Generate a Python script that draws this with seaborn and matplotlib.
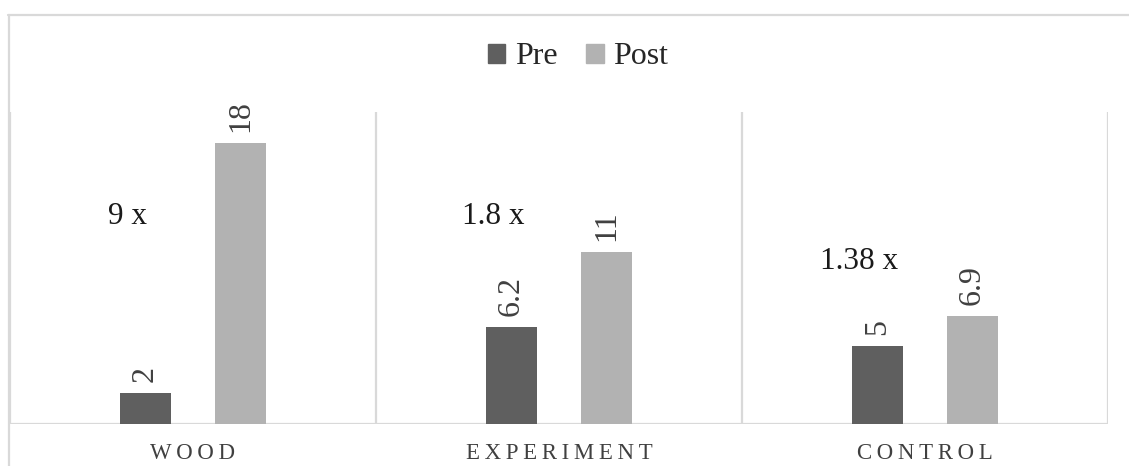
import matplotlib
matplotlib.use("Agg")
import matplotlib.pyplot as plt
from matplotlib.lines import Line2D
import pandas as pd
import seaborn as sns

# Data
groups = ["WOOD", "EXPERIMENT", "CONTROL"]
pre_values = [2, 6.2, 5]
post_values = [18, 11, 6.9]
ratio_labels = ["9 x", "1.8 x", "1.38 x"]
ratio_heights = [13.3, 13.3, 10.4]

phases = ["Pre", "Post"]
colors = ["#5f5f5f", "#b2b2b2"]
grid_color = "#d9d9d9"
text_color = "#404040"

df = pd.DataFrame({
    "group": groups * 2,
    "phase": ["Pre"] * len(groups) + ["Post"] * len(groups),
    "value": pre_values + post_values,
})

sns.set_theme(style="white")
plt.rcParams["font.family"] = ["Liberation Serif", "DejaVu Serif"]

fig = plt.figure(figsize=(11.29, 4.66), dpi=100)
ax = fig.add_axes([10 / 1129, 1 - 424 / 466, 1098 / 1129, 312 / 466])

sns.barplot(data=df, x="group", y="value", hue="phase", hue_order=phases,
            order=groups, palette=colors, width=0.52, gap=0.47,
            saturation=1, ax=ax, legend=True, edgecolor="none")

ax.set_xlim(-0.5, len(groups) - 0.5)
ax.set_ylim(0, 20)
ax.set_xlabel("")
ax.set_ylabel("")
ax.set_yticks([])

for spine in ax.spines.values():
    spine.set_visible(False)
ax.axhline(0, color=grid_color, lw=1.6, zorder=0.5)
for b in [-0.5, 0.5, 1.5, 2.5]:
    ax.axvline(b, color=grid_color, lw=1.6, zorder=0.5)

# Category labels with letter spacing
thin = "\u2009"
ax.set_xticks(range(len(groups)))
ax.set_xticklabels([thin.join(g) for g in groups], fontsize=16.5, color=text_color)
ax.tick_params(axis="x", length=0, pad=14)

# Value labels above bars
for cont in ax.containers:
    ax.bar_label(cont, fmt="%g", rotation=90, padding=8, fontsize=23,
                 color=text_color)

# Growth ratio annotations
for i, (lab, h) in enumerate(zip(ratio_labels, ratio_heights)):
    ax.text(i - 0.18, h, lab, ha="center", va="center", fontsize=22.5,
            color="#1a1a1a")

# Legend across the top
handles = [plt.Rectangle((0, 0), 1, 1, color=c) for c in colors]
ax.get_legend().remove()
fig.legend(handles, phases, loc="center", bbox_to_anchor=(578 / 1129, 1 - 57 / 466),
           ncol=2, frameon=False, fontsize=23, handlelength=0.55,
           handleheight=0.55, handletextpad=0.3, columnspacing=0.9,
           labelcolor="#262626")

# Chart area border (top and left edges)
fig.add_artist(Line2D([8 / 1129, 1.0], [1 - 14.5 / 466] * 2, color=grid_color,
                      lw=1.6, transform=fig.transFigure))
fig.add_artist(Line2D([8.5 / 1129] * 2, [0.0, 1 - 14.5 / 466], color=grid_color,
                      lw=1.6, transform=fig.transFigure))

fig.savefig("out.png", dpi=100)
